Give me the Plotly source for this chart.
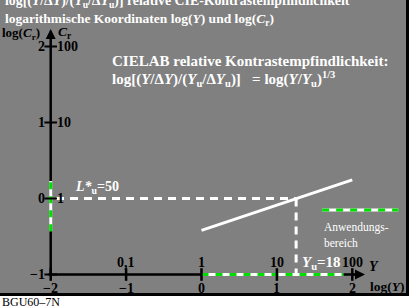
import plotly.graph_objects as go

# ---- data ----
log_y_ticks = [-2, -1, 0, 1, 2]
log_y_labels = ["\u22122", "\u22121", "0", "1", "2"]
y_lin_labels = ["", "0,1", "1", "10", "100"]
log_cr_ticks = [-1, 0, 1, 2]
log_cr_labels = ["\u22121", "0", "1", "2"]
cr_lin_labels = ["", "1", "10", "100"]

cielab_logY = [0.0, 2.0]
cielab_logCr = [-0.42, 0.245]
Yu_log = 1.255          # log(18)
Lu_level = 0.0
axis_green_x = [0.0, 1.88]
axis_green_y = [-0.43, 0.23]
legend_x = [1.6, 2.61]
legend_y = -0.15

# pixel mapping helpers (figure 413x308, margins 0)
X0PX, XSC = 201.5, 75.4
Y0PX, YSC = 198.5, 76.0
W, H = 413, 308
def px2x(p): return (p - X0PX) / XSC
def px2y(p): return (Y0PX - p) / YSC

SERIF = "Liberation Serif, Times New Roman, serif"
NB = "\u00a0"
fig = go.Figure()

def gw(xs, ys):
    fig.add_trace(go.Scatter(x=xs, y=ys, mode="lines", line=dict(color="white", width=3), hoverinfo="skip"))
    fig.add_trace(go.Scatter(x=xs, y=ys, mode="lines", line=dict(color="#00e000", width=3, dash="7px,7px"), hoverinfo="skip"))

# axes lines (black)
fig.add_trace(go.Scatter(x=[-2, -2], y=[-1, px2y(36)], mode="lines", line=dict(color="black", width=2.5), hoverinfo="skip"))
fig.add_trace(go.Scatter(x=[-2.03, px2x(358)], y=[-1, -1], mode="lines", line=dict(color="black", width=2.5), hoverinfo="skip"))

gw([-2, -2], axis_green_y)
gw(axis_green_x, [-1, -1])
gw(legend_x, [legend_y, legend_y])

# white dashed reference lines
fig.add_trace(go.Scatter(x=[px2x(56), Yu_log], y=[Lu_level, Lu_level], mode="lines",
                         line=dict(color="white", width=3, dash="8px,6px"), hoverinfo="skip"))
fig.add_trace(go.Scatter(x=[Yu_log, Yu_log], y=[Lu_level, -1], mode="lines",
                         line=dict(color="white", width=3, dash="8px,6px"), hoverinfo="skip"))

# CIELAB line
fig.add_trace(go.Scatter(x=cielab_logY, y=cielab_logCr, mode="lines",
                         line=dict(color="white", width=3), hoverinfo="skip"))

# tick marks
fig.add_trace(go.Scatter(x=log_y_ticks, y=[-1] * len(log_y_ticks), mode="markers",
                         marker=dict(symbol="line-ns-open", size=9, color="black",
                                     line=dict(color="black", width=2.5)), hoverinfo="skip"))
fig.add_trace(go.Scatter(x=[-2] * len(log_cr_ticks), y=log_cr_ticks, mode="markers",
                         marker=dict(symbol="line-ew-open", size=9, color="black",
                                     line=dict(color="black", width=2)), hoverinfo="skip"))

shapes = [
    dict(type="rect", xref="paper", yref="paper", x0=0, x1=409 / W, y0=1 - 296 / H, y1=1,
         fillcolor="black", line=dict(width=0), layer="below"),
    dict(type="rect", xref="paper", yref="paper", x0=0, x1=406 / W, y0=1 - 293 / H, y1=1,
         fillcolor="#808080", line=dict(width=0), layer="below"),
]

ann = []
def txt(x, y, s, size=13, color="black", xa="center", ya="middle", bold=True):
    if bold:
        s = "<b>" + s + "</b>"
    ann.append(dict(x=x, y=y, text=s, showarrow=False, xanchor=xa, yanchor=ya,
                    font=dict(family=SERIF, size=size, color=color), xref="x", yref="y"))

# arrows
ann.append(dict(x=-2, y=px2y(29), ax=-2, ay=px2y(40), xref="x", yref="y", axref="x", ayref="y",
                showarrow=True, arrowhead=2, arrowsize=1, arrowwidth=2, arrowcolor="black", text=""))
ann.append(dict(x=px2x(365), y=-1, ax=px2x(352), ay=-1, xref="x", yref="y", axref="x", ayref="y",
                showarrow=True, arrowhead=2, arrowsize=1, arrowwidth=2, arrowcolor="black", text=""))

# titles
txt(px2x(3), px2y(1), "log[(<i>Y</i>/\u0394<i>Y</i>)/(<i>Y</i><sub>u</sub>/\u0394<i>Y</i><sub>u</sub>)] relative CIE-Kontrastempfindlichkeit",
    size=13.8, color="white", xa="left")
txt(px2x(3), px2y(19), "logarithmische Koordinaten log(<i>Y</i>) und log(<i>C</i><sub>r</sub>)",
    size=13.5, color="white", xa="left")
txt(px2x(110), px2y(61), "CIELAB relative Kontrastempfindlichkeit:", size=15, color="white", xa="left")
txt(px2x(110), px2y(79), "log[(<i>Y</i>/\u0394<i>Y</i>)/(<i>Y</i><sub>u</sub>/\u0394<i>Y</i><sub>u</sub>)]" + NB * 3 +
    "=" + NB + "log(<i>Y</i>/<i>Y</i><sub>u</sub>)<sup>1/3</sup>",
    size=15, color="white", xa="left")

# axis titles
txt(px2x(0), px2y(33), "log(<i>C</i><sub>r</sub>)", size=13, xa="left")
txt(px2x(56), px2y(32), "<i>C</i><sub>r</sub>", size=13.5, xa="left")
txt(px2x(368), px2y(286), "log(<i>Y</i>)", size=13.5, xa="left")
txt(px2x(367), px2y(266), "<i>Y</i>", size=14, xa="left")

# y-axis tick labels
for v, l1, l2 in zip(log_cr_ticks, log_cr_labels, cr_lin_labels):
    txt(-2 - 4 / XSC, v, l1, size=14, xa="right")
    if l2:
        txt(-2 + 4 / XSC, v, l2, size=14, xa="left")
# x-axis tick labels
for v, l1, l2 in zip(log_y_ticks, log_y_labels, y_lin_labels):
    txt(v, px2y(288), l1, size=14)
    if l2:
        txt(v, px2y(262), l2, size=14)

txt(px2x(73), px2y(187), "<i>L*</i><sub>u</sub>=50", size=14, color="white", xa="left")
txt(px2x(300), px2y(263), "<i>Y</i><sub>u</sub>=18", size=15, color="white", xa="left")
txt(px2x(322), px2y(227), "Anwendungs-", size=11.5, color="white", xa="left", bold=False)
txt(px2x(322), px2y(243), "bereich", size=11.5, color="white", xa="left", bold=False)
txt(px2x(0), px2y(302), "BGU60\u20137N", size=12, xa="left", bold=False)

fig.update_layout(
    width=W, height=H, margin=dict(l=0, r=0, t=0, b=0),
    paper_bgcolor="white", plot_bgcolor="rgba(0,0,0,0)",
    showlegend=False, shapes=shapes, annotations=ann,
    xaxis=dict(range=[px2x(0), px2x(W)], visible=False, fixedrange=True),
    yaxis=dict(range=[px2y(H), px2y(0)], visible=False, fixedrange=True),
)
fig.write_html("out.html", config={"displayModeBar": False},
               post_script="document.body.style.margin='0';document.body.style.overflow='hidden';")
